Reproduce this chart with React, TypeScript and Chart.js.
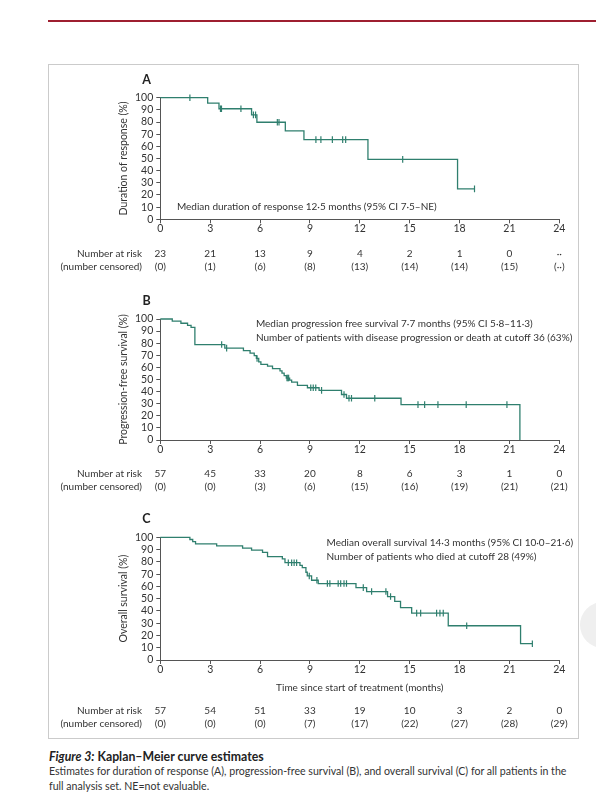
import React, { useEffect, useRef } from 'react';
import { Chart, registerables } from 'chart.js';

Chart.register(...registerables);

const FONT = 'Lato, "Noto Sans", sans-serif';
const TEXT = '#333333';
const CURVE = '#2f7f6e';
const AXIS = '#555555';

// ---------- data ----------
const RISK_MONTHS = [0, 3, 6, 9, 12, 15, 18, 21, 24];

// A: duration of response
const A_TIME = [0, 2.85, 3.53, 5.49, 5.81, 7.52, 8.64, 12.49, 17.88, 18.9];
const A_SURV = [100, 95.5, 90.9, 85.9, 79.8, 72.7, 65.5, 49.3, 25.0, 25.0];
const A_CENS = [1.78, 3.62, 3.68, 4.85, 5.6, 5.73, 7.04, 7.14, 9.36, 9.66, 10.35, 10.97, 11.15, 14.58, 18.9];
const A_AT_RISK = ['23', '21', '13', '9', '4', '2', '1', '0', '··'];
const A_CENSORED = ['(0)', '(1)', '(6)', '(8)', '(13)', '(14)', '(14)', '(15)', '(··)'];
const A_NOTES = ['Median duration of response 12·5 months (95% CI 7·5–NE)'];

// B: progression-free survival
const B_TIME = [0, 0.72, 1.24, 1.64, 1.85, 2.08, 3.88, 5.0, 5.4, 5.65, 5.78, 5.92, 6.05, 6.45, 6.75, 7.2, 7.32, 7.45, 7.58, 7.78, 7.9, 8.25, 8.85, 9.55, 10.9, 11.2, 14.48, 21.63];
const B_SURV = [100, 98.2, 96.5, 94.7, 93.0, 78.9, 75.9, 73.8, 71.8, 69.8, 67.4, 64.5, 62.5, 61.0, 59.0, 57.2, 55.2, 53.2, 51.2, 49.5, 47.8, 45.2, 43.2, 41.0, 37.6, 34.5, 29.2, 0];
const B_CENS = [3.69, 3.99, 5.82, 7.62, 7.67, 7.72, 9.05, 9.2, 9.35, 9.7, 11.05, 11.35, 11.5, 12.9, 15.5, 15.9, 16.7, 18.4, 20.85];
const B_AT_RISK = ['57', '45', '33', '20', '8', '6', '3', '1', '0'];
const B_CENSORED = ['(0)', '(0)', '(3)', '(6)', '(15)', '(16)', '(19)', '(21)', '(21)'];
const B_NOTES = [
  'Median progression free survival 7·7 months (95% CI 5·8–11·3)',
  'Number of patients with disease progression or death at cutoff 36 (63%)',
];

// C: overall survival
const C_TIME = [0, 1.78, 1.95, 2.12, 3.39, 4.95, 5.49, 6.15, 6.45, 7.34, 7.5, 8.4, 8.54, 8.76, 8.84, 9.1, 9.5, 11.77, 12.41, 13.67, 14.1, 14.45, 15.12, 17.32, 21.67, 22.38];
const C_SURV = [100, 98.2, 96.5, 94.7, 93.0, 91.2, 89.5, 87.7, 84.2, 82.4, 79.3, 77.2, 75.3, 71.5, 68.5, 65.0, 62.3, 59.0, 55.8, 51.7, 47.8, 42.7, 38.2, 27.9, 13.3, 13.3];
const C_CENS = [7.7, 7.9, 8.05, 8.2, 8.96, 9.42, 10.05, 10.2, 10.7, 10.85, 11.05, 11.2, 12.21, 12.71, 13.57, 13.85, 15.42, 15.66, 16.62, 16.82, 17.02, 18.43, 22.38];
const C_AT_RISK = ['57', '54', '51', '33', '19', '10', '3', '2', '0'];
const C_CENSORED = ['(0)', '(0)', '(0)', '(7)', '(17)', '(22)', '(27)', '(28)', '(29)'];
const C_NOTES = [
  'Median overall survival 14·3 months (95% CI 10·0–21·6)',
  'Number of patients who died at cutoff 28 (49%)',
];

// ---------- layout ----------
const W = 596;
const AREA_LEFT = 160.3;
const AREA_RIGHT = 559.3;
const Y_TITLE_X = 123.5;
const X_SCALE_H = 34;
const LETTER_X = 146.5;
const RISK_LABEL_X = 142;
const NOTE_GAP = 13.6;

type Panel = {
  letter: string;
  canvasTop: number;
  canvasH: number;
  areaTop: number;
  areaBottom: number;
  yTitle: string;
  xTitle?: string;
  time: number[];
  surv: number[];
  cens: number[];
  atRisk: string[];
  censored: string[];
  notes: string[];
  noteX: number;
  noteY: number;
  row1: number;
  row2: number;
};

const PANELS: Panel[] = [
  {
    letter: 'A', canvasTop: 64, canvasH: 220, areaTop: 97.7, areaBottom: 219.3,
    yTitle: 'Duration of response (%)', time: A_TIME, surv: A_SURV, cens: A_CENS,
    atRisk: A_AT_RISK, censored: A_CENSORED, notes: A_NOTES, noteX: 1, noteY: 10,
    row1: 253.4, row2: 266.8,
  },
  {
    letter: 'B', canvasTop: 284, canvasH: 220, areaTop: 319, areaBottom: 440,
    yTitle: 'Progression-free survival (%)', time: B_TIME, surv: B_SURV, cens: B_CENS,
    atRisk: B_AT_RISK, censored: B_CENSORED, notes: B_NOTES, noteX: 5.75, noteY: 96,
    row1: 473.4, row2: 486.8,
  },
  {
    letter: 'C', canvasTop: 504, canvasH: 235, areaTop: 537.3, areaBottom: 660,
    yTitle: 'Overall survival (%)', xTitle: 'Time since start of treatment (months)',
    time: C_TIME, surv: C_SURV, cens: C_CENS,
    atRisk: C_AT_RISK, censored: C_CENSORED, notes: C_NOTES, noteX: 10, noteY: 95.5,
    row1: 710.5, row2: 724.2,
  },
];

function survAt(times: number[], surv: number[], t: number) {
  let s = surv[0];
  for (let i = 0; i < times.length; i++) if (times[i] <= t) s = surv[i];
  return s;
}

function overlay(p: Panel) {
  return {
    id: 'kmOverlay',
    afterDraw(chart: any) {
      const { ctx, chartArea } = chart;
      const xs = chart.scales.x;
      const ys = chart.scales.y;
      ctx.save();
      ctx.textBaseline = 'middle';
      ctx.font = `bold 12.5px ${FONT}`;
      ctx.textAlign = 'center';
      ctx.fillStyle = '#222';
      ctx.fillText(p.letter, LETTER_X, chartArea.top - 18.2);
      ctx.fillStyle = TEXT;
      ctx.font = `10px ${FONT}`;
      ctx.textAlign = 'left';
      const nx = xs.getPixelForValue(p.noteX);
      const ny = ys.getPixelForValue(p.noteY);
      p.notes.forEach((line, i) => ctx.fillText(line, nx, ny + i * NOTE_GAP));
      const r1 = p.row1 - p.canvasTop;
      const r2 = p.row2 - p.canvasTop;
      ctx.textAlign = 'right';
      ctx.fillText('Number at risk', RISK_LABEL_X, r1);
      ctx.fillText('(number censored)', RISK_LABEL_X, r2);
      ctx.textAlign = 'center';
      RISK_MONTHS.forEach((m, i) => {
        const x = xs.getPixelForValue(m);
        ctx.fillText(p.atRisk[i], x, r1);
        ctx.fillText(p.censored[i], x, r2);
      });
      ctx.restore();
    },
  };
}

function buildConfig(p: Panel): any {
  const steps = p.time.map((t, i) => ({ x: t, y: p.surv[i] }));
  const marks = p.cens.map((t) => ({ x: t, y: survAt(p.time, p.surv, t) }));
  const titleFont = { family: FONT, size: 10.5 };
  const padTop = p.areaTop - p.canvasTop;
  const padBottom = p.canvasH - (p.areaBottom - p.canvasTop) - X_SCALE_H;
  const padLeft = Y_TITLE_X - (titleFont.size * 1.2) / 2;
  const yWidth = AREA_LEFT - padLeft;
  return {
    type: 'line',
    data: {
      datasets: [
        {
          data: steps,
          borderColor: CURVE,
          borderWidth: 1.3,
          stepped: true,
          pointRadius: 0,
          fill: false,
          clip: 4,
        },
        {
          data: marks,
          showLine: false,
          borderColor: CURVE,
          pointStyle: 'line',
          pointRotation: 90,
          pointRadius: 3.3,
          pointBorderColor: CURVE,
          pointBorderWidth: 1.2,
          clip: 6,
        },
      ],
    },
    options: {
      animation: false,
      responsive: false,
      events: [],
      layout: { padding: { left: padLeft, right: W - AREA_RIGHT, top: padTop, bottom: padBottom } },
      plugins: { legend: { display: false }, tooltip: { enabled: false }, title: { display: false } },
      scales: {
        x: {
          type: 'linear',
          min: 0,
          max: 24,
          ticks: { stepSize: 3, autoSkip: false, color: TEXT, font: { family: FONT, size: 10.5 }, padding: -0.5, maxRotation: 0 },
          grid: { drawOnChartArea: false, drawTicks: true, tickLength: 4, color: AXIS, lineWidth: 1 },
          border: { color: AXIS, width: 1 },
          title: {
            display: !!p.xTitle,
            text: p.xTitle || '',
            color: TEXT,
            font: { family: FONT, size: 10 },
            padding: { top: 0, bottom: 0 },
          },
          afterFit: (s: any) => { s.height = X_SCALE_H; },
        },
        y: {
          min: 0,
          max: 100,
          ticks: { stepSize: 10, autoSkip: false, color: TEXT, font: { family: FONT, size: 10.5 }, padding: 3 },
          grid: { drawOnChartArea: false, drawTicks: true, tickLength: 4, color: AXIS, lineWidth: 1 },
          border: { color: AXIS, width: 1 },
          title: {
            display: true,
            text: p.yTitle,
            color: TEXT,
            font: titleFont,
            padding: { top: 0, bottom: 0 },
          },
          afterFit: (s: any) => { s.width = yWidth; },
        },
      },
    },
    plugins: [overlay(p)],
  };
}

function KMPanel({ p }: { p: Panel }) {
  const ref = useRef<HTMLCanvasElement>(null);
  useEffect(() => {
    if (!ref.current) return;
    const chart = new Chart(ref.current, buildConfig(p));
    return () => chart.destroy();
  }, [p]);
  return (
    <canvas
      ref={ref}
      width={W}
      height={p.canvasH}
      style={{ position: 'absolute', left: 0, top: p.canvasTop, width: W, height: p.canvasH }}
    />
  );
}

export default function App() {
  return (
    <div
      style={{
        position: 'absolute', left: 0, top: 0, width: W, height: 800,
        background: '#ffffff', overflow: 'hidden', fontFamily: FONT, color: TEXT,
      }}
    >
      <div style={{ position: 'absolute', left: 48, top: 19.5, width: W - 48, height: 2.5, background: '#9e1f30' }} />
      <div
        style={{
          position: 'absolute', left: 48, top: 64, width: 531, height: 675,
          border: '1.5px solid #cbcbcb', boxSizing: 'border-box',
        }}
      />
      <div
        style={{
          position: 'absolute', left: 580, top: 602, width: 46, height: 46,
          borderRadius: '50%', background: '#efefef',
        }}
      />
      {PANELS.map((p) => (
        <KMPanel key={p.letter} p={p} />
      ))}
      <div style={{ position: 'absolute', left: 49, top: 748.5, whiteSpace: 'nowrap', fontSize: 12.3, lineHeight: '16px', fontWeight: 700, color: '#222' }}>
        <span style={{ fontStyle: 'italic' }}>Figure 3:</span> Kaplan–Meier curve estimates
      </div>
      <div style={{ position: 'absolute', left: 49, top: 764, whiteSpace: 'nowrap', fontSize: 10.6, lineHeight: '15px', color: '#333' }}>
        Estimates for duration of response (A), progression-free survival (B), and overall survival (C) for all patients in the
      </div>
      <div style={{ position: 'absolute', left: 49, top: 778.5, whiteSpace: 'nowrap', fontSize: 10.6, lineHeight: '15px', color: '#333' }}>
        full analysis set. NE=not evaluable.
      </div>
    </div>
  );
}
